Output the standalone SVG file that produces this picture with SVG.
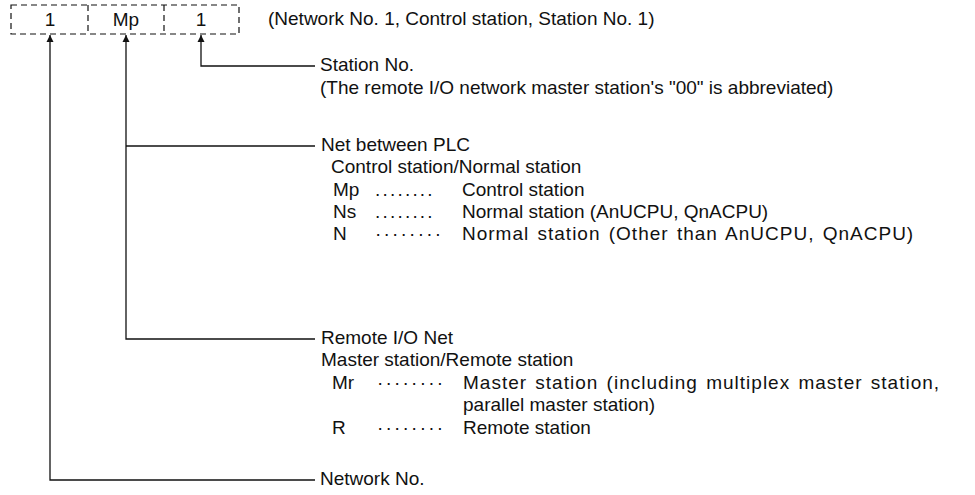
<svg xmlns="http://www.w3.org/2000/svg" width="975" height="495" viewBox="0 0 975 495">
<defs>
<style>
text{font-family:"Liberation Sans",Arial,sans-serif;font-size:19px;fill:#111}
.mid{text-anchor:middle}
.dots{letter-spacing:2.2px}
.wide{letter-spacing:1px;word-spacing:2px}
.box{fill:none;stroke:#111;stroke-width:1.2;stroke-dasharray:6 4}
.conn{fill:none;stroke:#111;stroke-width:1.3}
</style>
<marker id="arr" viewBox="0 0 10 10" refX="10" refY="5" markerWidth="7" markerHeight="11" markerUnits="userSpaceOnUse" orient="auto">
<path d="M0,0 L10,5 L0,10 Z" fill="#111"/>
</marker>
</defs>
<rect width="975" height="495" fill="#fff"/>
<g id="code">
<rect class="box" x="11" y="5" width="228" height="29"/>
<line class="box" x1="88" y1="5" x2="88" y2="34"/>
<line class="box" x1="164" y1="5" x2="164" y2="34"/>
<text class="mid" x="50" y="26">1</text>
<text class="mid" x="126" y="26">Mp</text>
<text class="mid" x="201" y="26">1</text>
<text x="268" y="25">(Network No. 1, Control station, Station No. 1)</text>
</g>
<g id="connectors">
<path class="conn" d="M315,66 H201 V35" marker-end="url(#arr)"/>
<path class="conn" d="M315,146 H126"/>
<path class="conn" d="M315,339 H126 V35" marker-end="url(#arr)"/>
<path class="conn" d="M315,480 H50 V35" marker-end="url(#arr)"/>
</g>
<g id="station-no">
<text x="320" y="71">Station No.</text>
<text x="320" y="94">(The remote I/O network master station's "00" is abbreviated)</text>
</g>
<g id="net-between-plc">
<text x="321" y="151">Net between PLC</text>
<text x="331" y="173">Control station/Normal station</text>
<text x="333" y="196">Mp</text><text class="dots" x="375" y="196">........</text><text x="462" y="196">Control station</text>
<text x="333" y="218">Ns</text><text class="dots" x="375" y="218">........</text><text x="462" y="218">Normal station (AnUCPU, QnACPU)</text>
<text x="333" y="240">N</text><text class="dots" x="375" y="240">········</text><text class="wide" x="462" y="240">Normal station (Other than AnUCPU, QnACPU)</text>
</g>
<g id="remote-io-net">
<text x="321" y="344">Remote I/O Net</text>
<text x="321" y="366">Master station/Remote station</text>
<text x="332" y="389">Mr</text><text class="dots" x="377" y="389">········</text><text class="wide" x="463" y="389">Master station (including multiplex master station,</text>
<text x="463" y="411">parallel master station)</text>
<text x="332" y="434">R</text><text class="dots" x="377" y="434">········</text><text x="463" y="434">Remote station</text>
</g>
<g id="network-no">
<text x="320" y="485">Network No.</text>
</g>
</svg>
